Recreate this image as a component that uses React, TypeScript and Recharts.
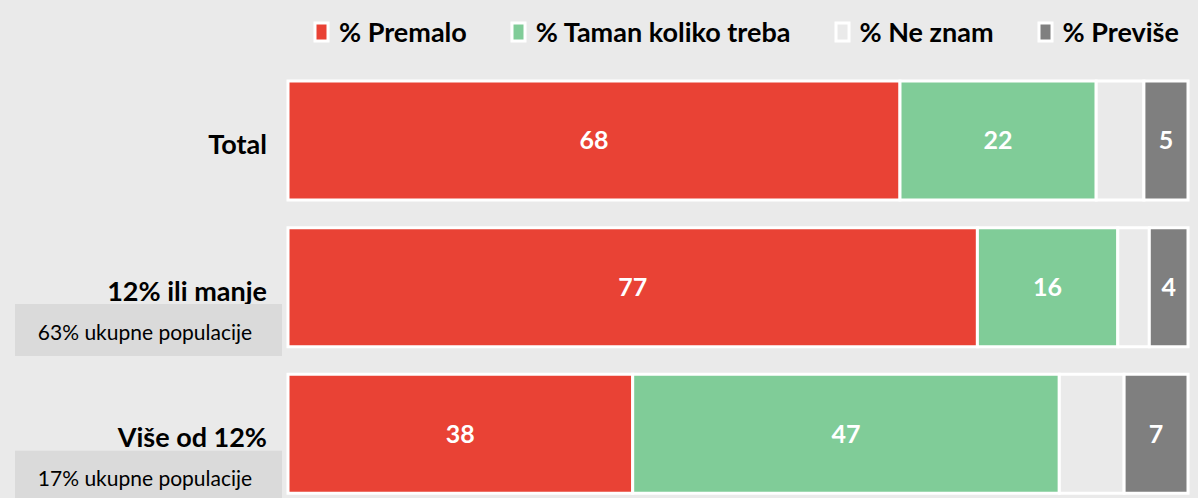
import { Bar, BarChart, LabelList, XAxis, YAxis } from 'recharts'

const categories = ['Total', '12% ili manje', 'Više od 12%']
const subLabels = ['', '63% ukupne populacije', '17% ukupne populacije']
const premalo = [68.0, 76.6, 38.3]
const taman = [21.8, 15.6, 47.4]
const neZnam = [5.3, 3.5, 7.2]
const previse = [4.9, 4.3, 7.1]

const seriesNames = ['% Premalo', '% Taman koliko treba', '% Ne znam', '% Previše']
const seriesColors = ['#E94235', '#80CC98', '#EAEAEA', '#7F7F7F']

const data = categories.map((name, i) => ({
  name,
  premalo: premalo[i],
  taman: taman[i],
  neZnam: neZnam[i],
  previse: previse[i]
}))

const keys = ['premalo', 'taman', 'neZnam', 'previse']
const font = 'Lato, "Open Sans", sans-serif'

function CategoryTick(props: any) {
  const { y, payload } = props
  const sub = subLabels[categories.indexOf(payload.value)]
  return (
    <g>
      <text
        x={267}
        y={y + 3}
        textAnchor="end"
        dominantBaseline="central"
        fontFamily={font}
        fontWeight={700}
        fontSize={27}
        fill="#000">
        {payload.value}
      </text>
      {sub ? (
        <g>
          <rect x={15} y={y + 17} width={267} height={52} fill="#DADADA" />
          <text
            x={145}
            y={y + 44}
            textAnchor="middle"
            dominantBaseline="central"
            fontFamily={font}
            fontSize={21}
            fill="#000">
            {sub}
          </text>
        </g>
      ) : null}
    </g>
  )
}

function ChartLegend() {
  return (
    <div
      style={{
        position: 'absolute',
        top: 17,
        left: 313,
        display: 'flex',
        gap: 43,
        fontFamily: font,
        fontWeight: 700,
        fontSize: 27,
        lineHeight: '30px'
      }}>
      {seriesNames.map((n, i) => (
        <div key={n} style={{ display: 'flex', alignItems: 'center' }}>
          <svg width={18} height={22} style={{ marginRight: 8 }}>
            <rect x={2} y={2} width={13} height={18} fill={seriesColors[i]} stroke="#fff" strokeWidth={3} />
          </svg>
          <span style={{ color: '#000' }}>{n}</span>
        </div>
      ))}
    </div>
  )
}

const labelStyle = { fill: '#fff', fontFamily: font, fontWeight: 700, fontSize: 25 }

export default function App() {
  return (
    <div
      style={{
        position: 'absolute',
        left: 0,
        top: 0,
        width: 1198,
        height: 498,
        overflow: 'hidden',
        background: '#EAEAEA'
      }}>
      <ChartLegend />
      <BarChart
        width={1198}
        height={510}
        data={data}
        layout="vertical"
        margin={{ top: 67, right: 10, left: 0, bottom: 3 }}
        barCategoryGap={0}>
        <XAxis type="number" domain={[0, 100]} hide />
        <YAxis
          type="category"
          dataKey="name"
          width={288}
          axisLine={false}
          tickLine={false}
          tick={<CategoryTick />}
        />
        {keys.map((k, i) => (
          <Bar
            key={k}
            dataKey={k}
            name={seriesNames[i]}
            stackId="a"
            fill={seriesColors[i]}
            stroke="#fff"
            strokeWidth={3}
            barSize={119}
            isAnimationActive={false}>
            {k !== 'neZnam' ? (
              <LabelList
                dataKey={k}
                position="center"
                formatter={(v: any) => Math.round(Number(v))}
                style={labelStyle}
              />
            ) : null}
          </Bar>
        ))}
      </BarChart>
    </div>
  )
}
